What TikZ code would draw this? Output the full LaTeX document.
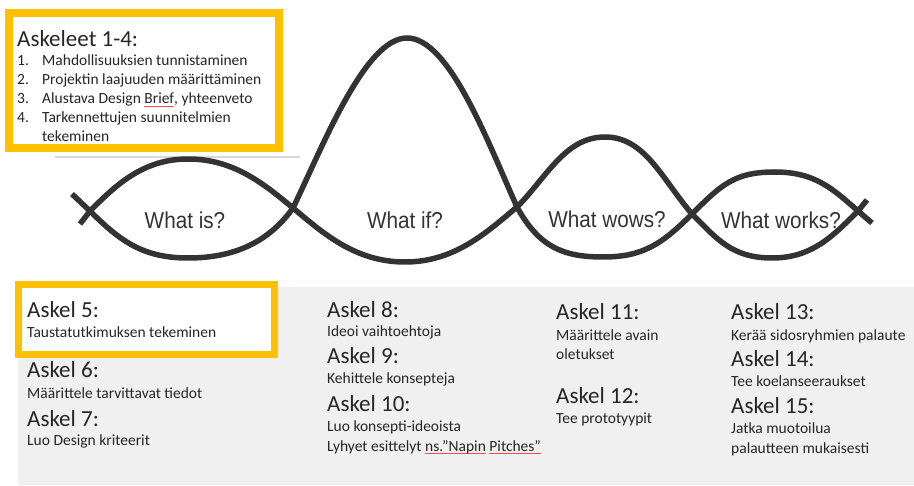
\documentclass[tikz,border=0pt]{standalone}
\usepackage{fontspec}
\usepackage{graphicx}
\setmainfont{Carlito}
\newfontfamily\wavefont{Liberation Sans}
\definecolor{boxgold}{HTML}{FFC000}
\definecolor{panelgray}{HTML}{F0F0F0}
\definecolor{curvegray}{HTML}{333333}
\definecolor{inkgray}{HTML}{262626}
% red spell-check underline
\newcommand\spellmark[1]{\setbox0\hbox{#1}\rlap{\color{red!70}\rule[-2.5pt]{\wd0}{0.8pt}}\box0\relax}
\newcommand\steplines[1]{\begin{tabular}[t]{@{}l@{}}#1\end{tabular}}

\begin{document}
\begin{tikzpicture}[x=1pt,y=-1pt,
    strand/.style={draw=curvegray,line width=5.5pt},
    goldbox/.style={draw=boxgold,fill=white},
    head/.style={anchor=base west,inner sep=0pt,text=inkgray,font=\fontsize{23}{27}\selectfont},
    body/.style={anchor=base west,inner sep=0pt,text=inkgray,font=\fontsize{15.5}{19.5}\selectfont},
    wave/.style={inner sep=0pt,text=curvegray,font=\wavefont\fontsize{23}{27}\selectfont}]
  \useasboundingbox (0,0) rectangle (914,486);

  % steps 1-4
  \draw[goldbox,line width=8pt] (8.5,13) rectangle (279,148.5);
  \node[head] (steps14) at (17,47) {Askeleet 1-4:};
  \node[body,font=\fontsize{15.5}{19}\selectfont] (list14) at (17,66)
    {\begin{tabular}[t]{@{}p{25pt}@{}l@{}}
      1.&Mahdollisuuksien tunnistaminen\\
      2.&Projektin laajuuden määrittäminen\\
      3.&Alustava Design \spellmark{Brief}, yhteenveto\\
      4.&Tarkennettujen suunnitelmien\\
        &tekeminen
    \end{tabular}};
  \draw[gray!30,line width=1.5pt] (55,157) -- (300,157);

  % the two strands
  \coordinate (c0) at (90,211);
  \coordinate (c1) at (293,208);
  \coordinate (c2) at (517,207);
  \coordinate (c3) at (692,214);
  \coordinate (c4) at (858,211);
  \draw[strand] (80,224) -- (c0)
    .. controls +(26,-26) and +(-45,0) .. (188,159)
    .. controls +(45,0) and +(-30,-25) .. (c1)
    .. controls +(30,25) and +(-50,0) .. (405,262)
    .. controls +(50,0) and +(-30,25) .. (c2)
    .. controls +(30,-30) and +(-40,0) .. (605,137)
    .. controls +(40,0) and +(-30,-35) .. (c3)
    .. controls +(25,25) and +(-40,0) .. (772,258)
    .. controls +(40,0) and +(-25,25) .. (c4) -- (867,200);
  \draw[strand] (72,194) -- (c0)
    .. controls +(30,30) and +(-45,0) .. (188,258)
    .. controls +(45,0) and +(-25,35) .. (c1)
    .. controls (323,146) and (365,38) .. (407,38)
    .. controls (449,38) and (487,140) .. (c2)
    .. controls +(22,40) and +(-40,0) .. (603,257)
    .. controls +(40,0) and +(-30,30) .. (c3)
    .. controls +(30,-30) and +(-40,0) .. (775,172)
    .. controls +(40,0) and +(-25,-22) .. (c4) -- (872,223);

  \node[wave] (whatis) at (185,220) {\scalebox{0.9}[1]{What is?}};
  \node[wave] (whatif) at (405,220) {\scalebox{0.9}[1]{What if?}};
  \node[wave] (whatwows) at (607,219) {\scalebox{0.9}[1]{What wows?}};
  \node[wave] (whatworks) at (781,220) {\scalebox{0.9}[1]{What works?}};

  % steps 5-15
  \fill[panelgray] (18,287) rectangle (914,485);
  \draw[goldbox,line width=7pt] (18,284.5) rectangle (274.5,354.5);

  \node[head] (step5) at (27,318) {Askel 5:};
  \node[body] (text5) at (27,338) {Taustatutkimuksen tekeminen};
  \node[head] (step6) at (27,378) {Askel 6:};
  \node[body] (text6) at (27,399) {Määrittele tarvittavat tiedot};
  \node[head] (step7) at (27,427) {Askel 7:};
  \node[body] (text7) at (27,446) {Luo Design kriteerit};

  \node[head] (step8) at (327,318) {Askel 8:};
  \node[body] (text8) at (327,337) {Ideoi vaihtoehtoja};
  \node[head] (step9) at (327,364) {Askel 9:};
  \node[body] (text9) at (327,384) {Kehittele konsepteja};
  \node[head] (step10) at (327,412) {Askel 10:};
  \node[body] (text10) at (327,432) {\steplines{Luo konsepti-ideoista\\
    Lyhyet esittelyt \spellmark{ns.”Napin} \spellmark{Pitches”}}};

  \node[head] (step11) at (556,320) {Askel 11:};
  \node[body,font=\fontsize{15.5}{18.5}\selectfont] (text11) at (556,341) {\steplines{Määrittele avain\\oletukset}};
  \node[head] (step12) at (556,404) {Askel 12:};
  \node[body] (text12) at (556,424) {Tee prototyypit};

  \node[head] (step13) at (731,320) {Askel 13:};
  \node[body] (text13) at (731,341) {Kerää sidosryhmien palaute};
  \node[head] (step14) at (731,367) {Askel 14:};
  \node[body] (text14) at (731,387) {Tee koelanseeraukset};
  \node[head] (step15) at (731,414) {Askel 15:};
  \node[body] (text15) at (731,434) {\steplines{Jatka muotoilua\\palautteen mukaisesti}};
\end{tikzpicture}
\end{document}
